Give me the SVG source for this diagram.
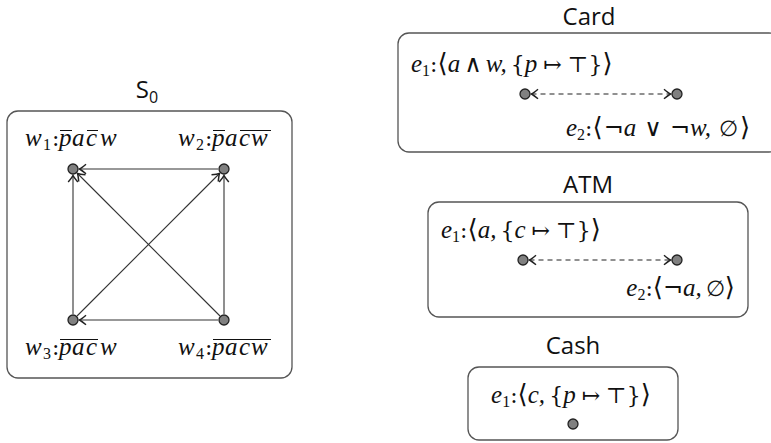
<svg xmlns="http://www.w3.org/2000/svg" width="771" height="443" viewBox="0 0 771 443">
<style>
.box{fill:none;stroke:#555;stroke-width:1.3}
.title{font-family:"Open Sans","Noto Sans",sans-serif;font-size:24px;fill:#111;text-anchor:middle}
.m{font-family:"Liberation Serif","DejaVu Serif",serif;font-size:25px;font-style:italic;fill:#111}
.u{font-style:normal;font-family:"DejaVu Serif","Liberation Serif",serif;font-size:22px}
.s{font-style:normal;font-family:"DejaVu Sans","Liberation Sans",sans-serif;font-size:24px}
.br{font-style:normal;font-family:"DejaVu Serif","Liberation Serif",serif;font-size:26px}
.sub{font-size:16px;font-style:normal}
.ol{fill:none;stroke:#111;stroke-width:1.2}
.node{fill:#808080;stroke:#222;stroke-width:1.3}
.edge{fill:none;stroke:#333;stroke-width:1.1}
.dash{fill:none;stroke:#222;stroke-width:1.1;stroke-dasharray:5 4}
</style>
<defs>
<marker id="arr" viewBox="-8 -6 10 12" markerWidth="10" markerHeight="12" refX="0" refY="0" orient="auto-start-reverse" markerUnits="userSpaceOnUse">
<path d="M-6.5,-4.8 Q-2,-1 0,0 Q-2,1 -6.5,4.8" fill="none" stroke="#222" stroke-width="1.5"/>
</marker>
</defs>

<g id="S0">
<text class="title" x="147" y="98">S<tspan font-size="16" dy="5">0</tspan></text>
<rect class="box" x="7" y="111" width="285" height="267" rx="11"/>
</g>

<g id="connectors">
<line class="edge" x1="218" y1="169" x2="79.5" y2="169" marker-end="url(#arr)"/>
<line class="edge" x1="73" y1="314" x2="73" y2="175.5" marker-end="url(#arr)"/>
<line class="edge" x1="220" y1="316" x2="77.5" y2="173.5" marker-end="url(#arr)"/>
<line class="edge" x1="77" y1="316" x2="219.5" y2="173.5" marker-end="url(#arr)"/>
<line class="edge" x1="224" y1="314" x2="224" y2="175.5" marker-end="url(#arr)"/>
<line class="edge" x1="218" y1="320" x2="79.5" y2="320" marker-end="url(#arr)"/>
<line class="dash" x1="531.5" y1="94" x2="670.5" y2="94" marker-start="url(#arr)" marker-end="url(#arr)"/>
<line class="dash" x1="529.5" y1="260" x2="670.5" y2="260" marker-start="url(#arr)" marker-end="url(#arr)"/>
</g>

<g id="w1">
<circle class="node" cx="73" cy="169" r="5"/>
<text class="m" y="146"><tspan x="25">w</tspan><tspan class="sub" x="43" dy="4">1</tspan><tspan class="u" x="52" dy="-4">:</tspan><tspan x="59">p</tspan><tspan x="72">a</tspan><tspan x="86">c</tspan><tspan x="100">w</tspan></text>
<path class="ol" d="M60,130.5H72M87,130.5H98"/>
</g>
<g id="w2">
<circle class="node" cx="224" cy="169" r="5"/>
<text class="m" y="146"><tspan x="178">w</tspan><tspan class="sub" x="196" dy="4">2</tspan><tspan class="u" x="205" dy="-4">:</tspan><tspan x="212">p</tspan><tspan x="225">a</tspan><tspan x="239">c</tspan><tspan x="251">w</tspan></text>
<path class="ol" d="M213,130.5H225M240,130.5H271"/>
</g>
<g id="w3">
<circle class="node" cx="73" cy="320" r="5"/>
<text class="m" y="355"><tspan x="25">w</tspan><tspan class="sub" x="43" dy="4">3</tspan><tspan class="u" x="52" dy="-4">:</tspan><tspan x="59">p</tspan><tspan x="72">a</tspan><tspan x="86">c</tspan><tspan x="100">w</tspan></text>
<path class="ol" d="M60,339.5H98"/>
</g>
<g id="w4">
<circle class="node" cx="224" cy="320" r="5"/>
<text class="m" y="355"><tspan x="178">w</tspan><tspan class="sub" x="196" dy="4">4</tspan><tspan class="u" x="205" dy="-4">:</tspan><tspan x="212">p</tspan><tspan x="225">a</tspan><tspan x="239">c</tspan><tspan x="251">w</tspan></text>
<path class="ol" d="M213,339.5H271"/>
</g>

<g id="Card">
<text class="title" x="589" y="25">Card</text>
<rect class="box" x="398" y="33" width="382" height="119" rx="11"/>
<circle class="node" cx="525" cy="94" r="5"/>
<circle class="node" cx="677" cy="94" r="5"/>
<text class="m" x="411" y="72">e<tspan class="sub" dy="4">1</tspan><tspan dy="-4" class="u">:</tspan><tspan class="br">⟨</tspan>a<tspan class="s" dx="4">∧</tspan><tspan dx="4">w,</tspan><tspan class="u" dx="4">{</tspan>p<tspan class="u" dx="6">↦</tspan><tspan class="u" dx="6">⊤}</tspan><tspan class="br">⟩</tspan></text>
<text class="m" x="566" y="136">e<tspan class="sub" dy="4">2</tspan><tspan dy="-4" class="u">:</tspan><tspan class="br">⟨</tspan><tspan class="s" dx="1">¬</tspan>a<tspan class="s" dx="8">∨</tspan><tspan class="s" dx="8">¬</tspan>w,<tspan class="u" dx="8">∅</tspan><tspan class="br" dx="2">⟩</tspan></text>
</g>

<g id="ATM">
<text class="title" x="588" y="193">ATM</text>
<rect class="box" x="428" y="202" width="320" height="115" rx="11"/>
<circle class="node" cx="523" cy="260" r="5"/>
<circle class="node" cx="677" cy="260" r="5"/>
<text class="m" x="441" y="238">e<tspan class="sub" dy="4">1</tspan><tspan dy="-4" class="u">:</tspan><tspan class="br">⟨</tspan>a,<tspan class="u" dx="4">{</tspan>c<tspan class="u" dx="6">↦</tspan><tspan class="u" dx="6">⊤}</tspan><tspan class="br">⟩</tspan></text>
<text class="m" x="735" y="296" text-anchor="end">e<tspan class="sub" dy="4">2</tspan><tspan dy="-4" class="u">:</tspan><tspan class="br">⟨</tspan><tspan class="s">¬</tspan>a,<tspan class="u" dx="4">∅</tspan><tspan class="br">⟩</tspan></text>
</g>

<g id="Cash">
<text class="title" x="573" y="354">Cash</text>
<rect class="box" x="468" y="367" width="210" height="73" rx="11"/>
<circle class="node" cx="573" cy="424" r="5"/>
<text class="m" x="571" y="403" text-anchor="middle">e<tspan class="sub" dy="4">1</tspan><tspan dy="-4" class="u">:</tspan><tspan class="br">⟨</tspan>c,<tspan class="u" dx="4">{</tspan>p<tspan class="u" dx="6">↦</tspan><tspan class="u" dx="6">⊤}</tspan><tspan class="br">⟩</tspan></text>
</g>
</svg>
